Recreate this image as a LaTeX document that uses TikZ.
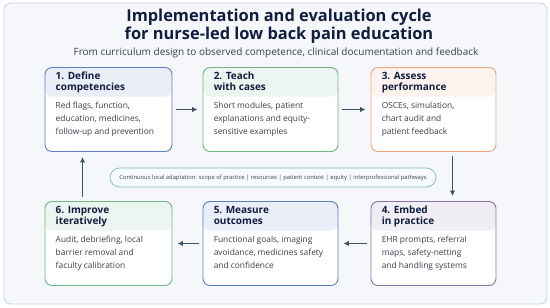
\documentclass[tikz,border=0pt]{standalone}
\usepackage{fontspec}
\setmainfont{Open Sans}
\usepackage{xcolor}
\usetikzlibrary{arrows.meta,positioning}
\definecolor{CycNavy}{HTML}{111C3F}
\definecolor{CycText}{HTML}{3A404C}
\definecolor{CycBlue}{HTML}{5B7FBF}
\definecolor{CycGreen}{HTML}{6DB585}
\definecolor{CycOrange}{HTML}{F0A47C}
\definecolor{CycPurple}{HTML}{8B72A6}
\definecolor{CycTeal}{HTML}{7DB8C0}
\definecolor{CycArrow}{HTML}{3F5566}

\begin{document}
\begin{tikzpicture}[x=1pt, y=-1pt, font=\small, >={Latex[length=5.5pt,width=5.5pt]},
  card/.style={draw=#1, line width=0.9pt, rounded corners=7pt, fill=white, minimum height=84pt, inner sep=0pt,
    path picture={\fill[#1!13] (path picture bounding box.north west) rectangle ([yshift=-29pt]path picture bounding box.north east);}},
  head/.style={font=\fontsize{10}{11}\selectfont\bfseries, text=CycNavy, align=left, inner sep=0pt},
  body/.style={font=\fontsize{8.4}{13}\selectfont, text=CycText, align=left, inner sep=0pt},
  pill/.style={draw=CycTeal, line width=0.7pt, fill=CycTeal!5, rounded corners=9.5pt, minimum width=326pt, minimum height=19pt, inner sep=2pt, font=\fontsize{5.8}{6.5}\selectfont, text=CycText},
  flow/.style={->, line width=1.4pt, CycArrow, shorten <=4pt, shorten >=5pt}]
\useasboundingbox (0,0) rectangle (550,308);
\filldraw[fill=CycBlue!6, draw=CycBlue!35, line width=0.8pt, rounded corners=7pt] (4,3) rectangle (547,304);

\node[font=\fontsize{16.4}{18}\selectfont\bfseries, text=CycNavy, align=center] (title) at (279,26) {Implementation and evaluation cycle\\for nurse-led low back pain education};
\node[font=\fontsize{10}{11}\selectfont, text=CycText] (subtitle) at (276,52.5) {From curriculum design to observed competence, clinical documentation and feedback};

\node[card=CycBlue, minimum width=127pt] (define) at (108.5,109.5) {};
\node[card=CycGreen, minimum width=135pt] (teach) at (270.5,109.5) {};
\node[card=CycOrange, minimum width=125pt] (assess) at (433.5,109.5) {};
\node[card=CycPurple, minimum width=125pt] (embed) at (433.5,243.5) {};
\node[card=CycBlue, minimum width=135pt] (measure) at (270.5,243.5) {};
\node[card=CycGreen, minimum width=127pt] (improve) at (108.5,243.5) {};

\node[head, below right=5pt and 11pt of define.north west] {1. Define\\competencies};
\node[body, below right=35pt and 11pt of define.north west] {Red flags, function,\\education, medicines,\\follow-up and prevention};
\node[head, below right=5pt and 11pt of teach.north west] {2. Teach\\with cases};
\node[body, below right=35pt and 11pt of teach.north west] {Short modules, patient\\explanations and equity-\\sensitive examples};
\node[head, below right=5pt and 11pt of assess.north west] {3. Assess\\performance};
\node[body, below right=35pt and 11pt of assess.north west] {OSCEs, simulation,\\chart audit and\\patient feedback};
\node[head, below right=5pt and 11pt of embed.north west] {4. Embed\\in practice};
\node[body, below right=35pt and 11pt of embed.north west] {EHR prompts, referral\\maps, safety-netting\\and handling systems};
\node[head, below right=5pt and 11pt of measure.north west] {5. Measure\\outcomes};
\node[body, below right=35pt and 11pt of measure.north west] {Functional goals, imaging\\avoidance, medicines safety\\and confidence};
\node[head, below right=5pt and 11pt of improve.north west] {6. Improve\\iteratively};
\node[body, below right=35pt and 11pt of improve.north west] {Audit, debriefing, local\\barrier removal and\\faculty calibration};

\node[pill] (adapt) at (273,177.5) {Continuous local adaptation: scope of practice | resources | patient context | equity | interprofessional pathways};

\foreach \a/\b in {define/teach,teach/assess,embed/measure,measure/improve}{\draw[flow] (\a) -- (\b);}
\draw[flow] ([xshift=19pt]assess.south) -- ([xshift=19pt]embed.north);
\draw[flow] ([xshift=-26pt]improve.north) -- ([xshift=-26pt]define.south);

\end{tikzpicture}
\end{document}
